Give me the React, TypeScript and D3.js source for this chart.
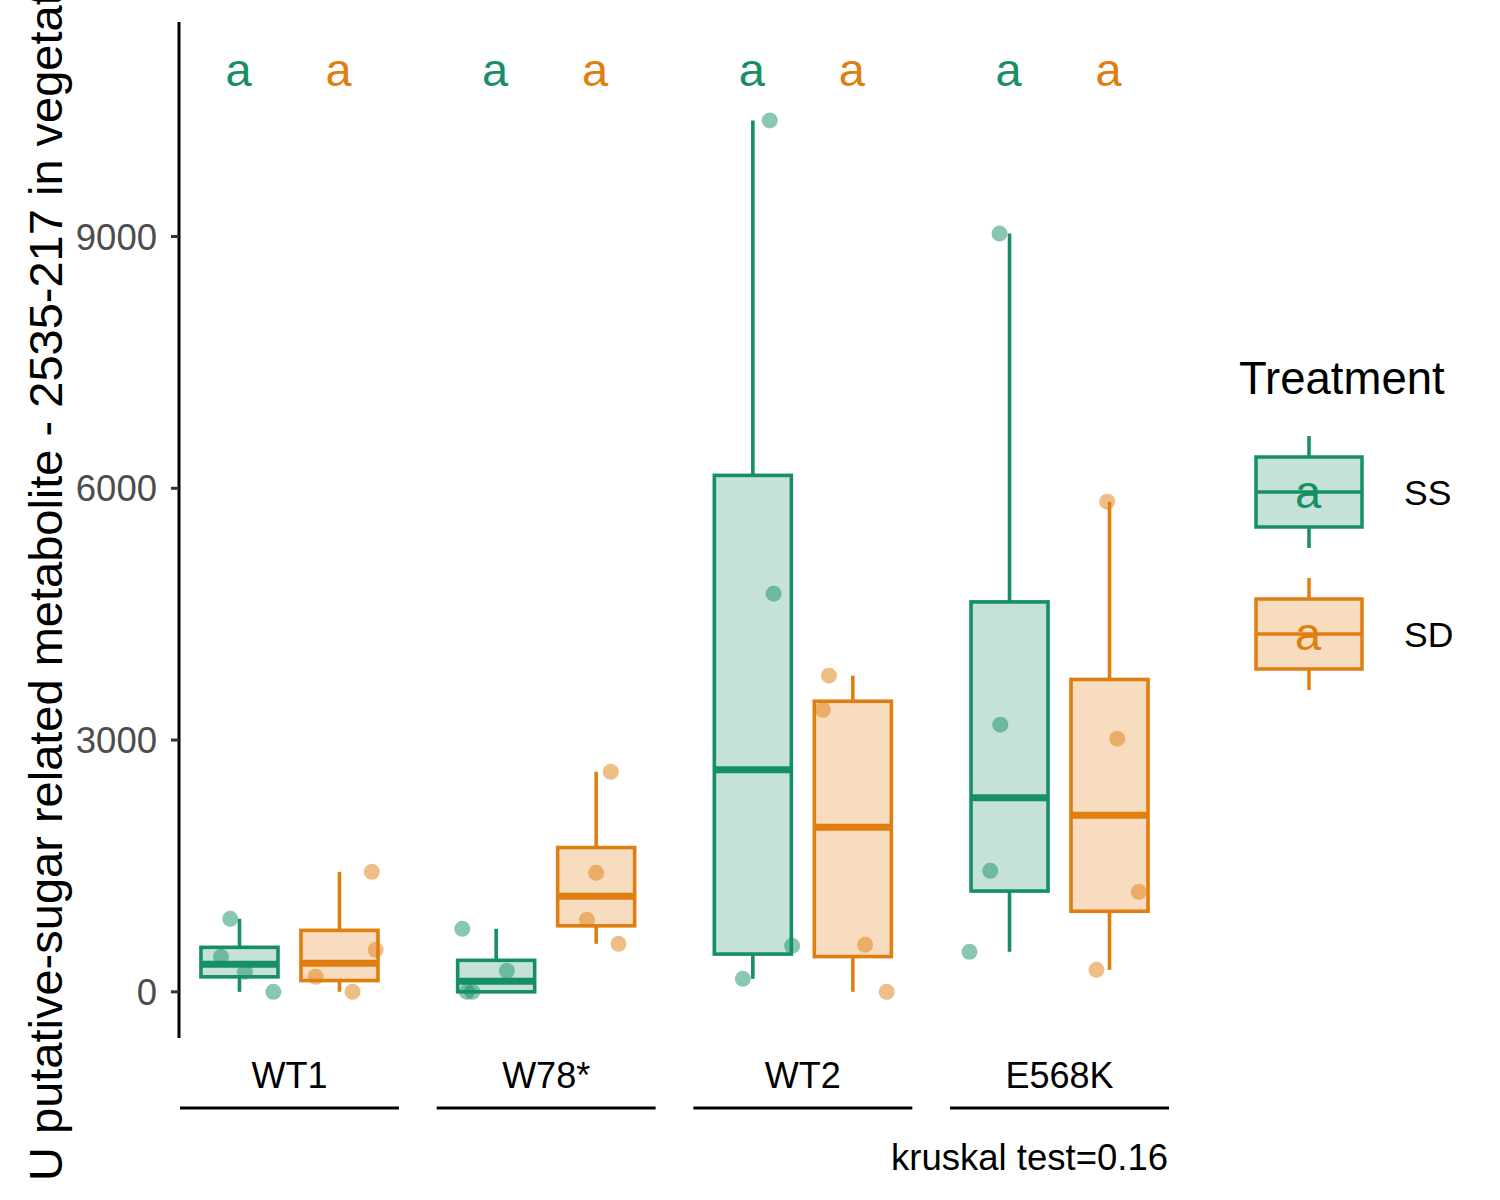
import * as d3 from 'd3';

const genotypes = ['WT1', 'W78*', 'WT2', 'E568K'];
const treatments = ['SS', 'SD'];

// four plants per genotype x treatment
const ssValues = [
  [870, 417, 238, 0],
  [751, 250, 0, 0],
  [10383, 4744, 548, 155],
  [9035, 3183, 1442, 477],
];
const sdValues = [
  [1430, 500, 179, 0],
  [2622, 1418, 858, 572],
  [3767, 3361, 560, 0],
  [5841, 3016, 1192, 262],
];
// horizontal jitter of each point, as a share of the box width
const ssJitter = [
  [-0.12, -0.24, 0.07, 0.44],
  [-0.44, 0.14, -0.31, -0.38],
  [0.22, 0.27, 0.51, -0.13],
  [-0.13, -0.12, -0.25, -0.52],
];
const sdJitter = [
  [0.42, 0.47, -0.31, 0.17],
  [0.19, 0, -0.12, 0.29],
  [-0.31, -0.39, 0.16, 0.44],
  [-0.03, 0.1, 0.38, -0.17],
];
const ssLetters = ['a', 'a', 'a', 'a'];
const sdLetters = ['a', 'a', 'a', 'a'];
const yTicks = [0, 3000, 6000, 9000];
const kruskalP = 0.16;
const yTitle = 'U putative-sugar related metabolite - 2535-217 in vegetative tissue';

const stroke: Record<string, string> = { SS: '#168f64', SD: '#e07e10' };
const fill: Record<string, string> = { SS: '#c5e2d8', SD: '#f7dcc0' };
const font = '"Liberation Sans", Arial, Helvetica, sans-serif';

function boxStats(vals: number[]) {
  const s = [...vals].sort(d3.ascending);
  const q1 = d3.quantile(s, 0.25)!;
  const med = d3.quantile(s, 0.5)!;
  const q3 = d3.quantile(s, 0.75)!;
  const iqr = q3 - q1;
  const lo = d3.min(s.filter(v => v >= q1 - 1.5 * iqr))!;
  const hi = d3.max(s.filter(v => v <= q3 + 1.5 * iqr))!;
  return { q1, med, q3, lo, hi };
}

export default function App() {
  const W = 1500, H = 1200;
  const top = 22, bottom = 1038, axisX = 179;

  const allVals = [...ssValues.flat(), ...sdValues.flat()];
  const labelY = d3.max(allVals)! * 1.06;
  const dmin = d3.min(allVals)!;
  const pad = (labelY - dmin) * 0.05;
  const y = d3.scaleLinear().domain([dmin - pad, labelY + pad]).range([bottom, top]);

  const panel = d3.scaleBand<string>().domain(genotypes).range([180, 1169]).paddingInner(0.147);
  const dodge = d3.scalePoint<string>().domain(treatments).range([-50, 50]);
  const boxW = 77;

  const groups = genotypes.flatMap((g, i) =>
    treatments.map(t => ({
      g, t,
      vals: t === 'SS' ? ssValues[i] : sdValues[i],
      jit: t === 'SS' ? ssJitter[i] : sdJitter[i],
      letter: t === 'SS' ? ssLetters[i] : sdLetters[i],
      cx: panel(g)! + panel.bandwidth() / 2 + dodge(t)!,
    }))
  );

  return (
    <svg width={W} height={H} style={{ position: 'absolute', left: 0, top: 0, background: '#fff' }}
      fontFamily={font}>
      {/* y axis */}
      <line x1={axisX} x2={axisX} y1={top} y2={bottom} stroke="#000" strokeWidth={3} />
      {yTicks.map(v => (
        <g key={v}>
          <line x1={axisX - 8} x2={axisX} y1={y(v)} y2={y(v)} stroke="#333" strokeWidth={3} />
          <text x={157} y={y(v)} dy="0.36em" textAnchor="end" fontSize={36.5} fill="#4d4d4d">{v}</text>
        </g>
      ))}
      <text transform={`translate(62,1181) rotate(-90)`} fontSize={47} fill="#000">{yTitle}</text>

      {/* boxes */}
      {groups.map(d => {
        const s = boxStats(d.vals);
        return (
          <g key={d.g + d.t} stroke={stroke[d.t]}>
            <line x1={d.cx} x2={d.cx} y1={y(s.hi)} y2={y(s.q3)} strokeWidth={3.6} />
            <line x1={d.cx} x2={d.cx} y1={y(s.q1)} y2={y(s.lo)} strokeWidth={3.6} />
            <rect x={d.cx - boxW / 2} y={y(s.q3)} width={boxW} height={y(s.q1) - y(s.q3)}
              fill={fill[d.t]} strokeWidth={3.6} />
            <line x1={d.cx - boxW / 2} x2={d.cx + boxW / 2} y1={y(s.med)} y2={y(s.med)} strokeWidth={7} />
          </g>
        );
      })}
      {/* jittered points */}
      {groups.map(d => d.vals.map((v, k) => (
        <circle key={d.g + d.t + k} cx={d.cx + d.jit[k] * boxW} cy={y(v)} r={8}
          fill={stroke[d.t]} fillOpacity={0.5} />
      )))}
      {/* significance letters */}
      {groups.map(d => (
        <text key={'l' + d.g + d.t} x={d.cx - 1} y={y(labelY) + 18} textAnchor="middle"
          fontSize={47} fill={stroke[d.t]}>{d.letter}</text>
      ))}

      {/* genotype strips at the bottom */}
      {genotypes.map(g => (
        <g key={g}>
          <text x={panel(g)! + panel.bandwidth() / 2} y={1088} textAnchor="middle" fontSize={36}
            fill="#000">{g}</text>
          <line x1={panel(g)!} x2={panel(g)! + panel.bandwidth()} y1={1108} y2={1108}
            stroke="#000" strokeWidth={3} />
        </g>
      ))}
      <text x={1168} y={1170} textAnchor="end" fontSize={36.5} fill="#000">{`kruskal test=${kruskalP}`}</text>

      {/* legend */}
      <text x={1239} y={394} fontSize={45.5} fill="#000">Treatment</text>
      {treatments.map((t, i) => {
        const cy = 492 + i * 142;
        return (
          <g key={t}>
            <g stroke={stroke[t]} strokeWidth={3.5}>
              <line x1={1309} x2={1309} y1={cy - 56} y2={cy - 35} />
              <line x1={1309} x2={1309} y1={cy + 35} y2={cy + 56} />
              <rect x={1256} y={cy - 35} width={106} height={70} fill={fill[t]} />
              <line x1={1256} x2={1362} y1={cy} y2={cy} />
            </g>
            <text x={1308} y={cy + 16} textAnchor="middle" fontSize={47} fill={stroke[t]}>a</text>
            <text x={1404} y={cy + 13} fontSize={35.5} fill="#000">{t}</text>
          </g>
        );
      })}
    </svg>
  );
}
